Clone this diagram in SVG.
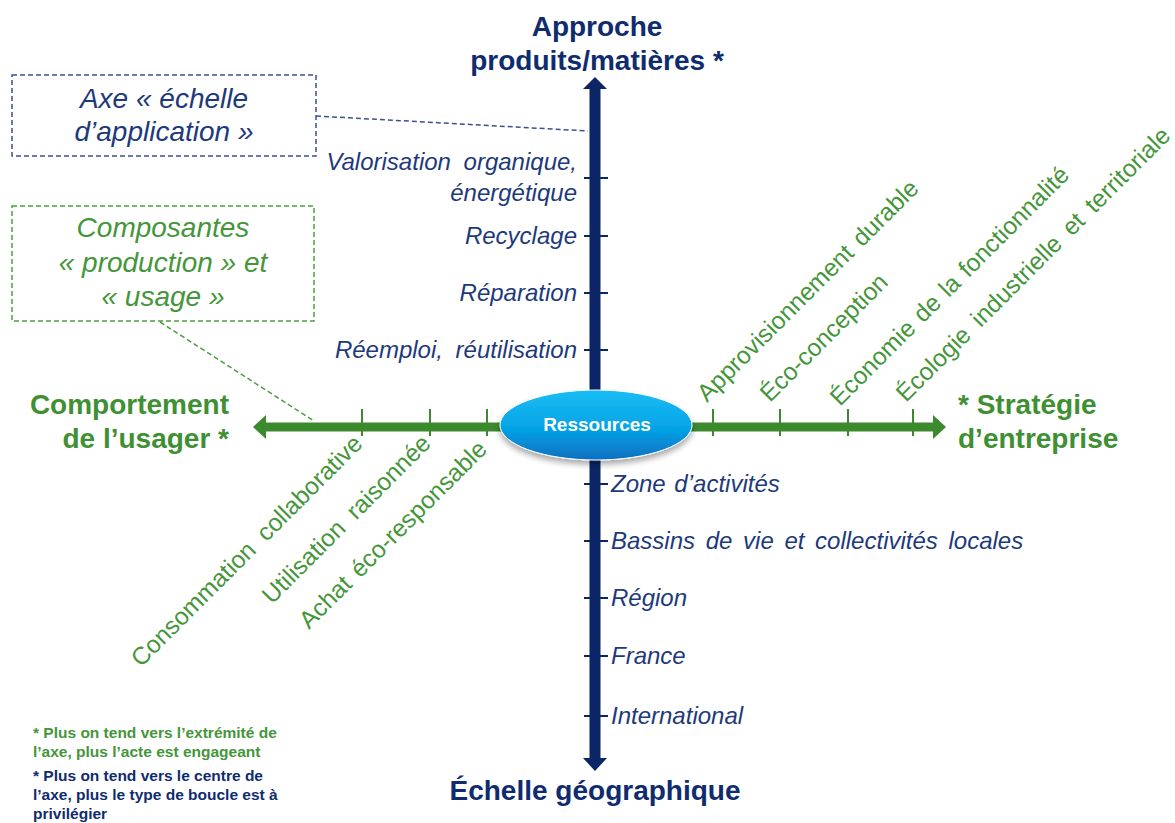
<svg xmlns="http://www.w3.org/2000/svg" width="1175" height="823" viewBox="0 0 1175 823">
  <style>
    .navy-t { fill: #1E3A7B; font-family: "Liberation Sans", Arial, sans-serif; font-style: italic; font-size: 24px; }
    .green-r { fill: #45963A; font-family: "Liberation Sans", Arial, sans-serif; font-size: 24.5px; }
    .title-b { fill: #0F2C6E; font-family: "Liberation Sans", Arial, sans-serif; font-weight: bold; font-size: 28px; }
    .title-g { fill: #3F8F33; font-family: "Liberation Sans", Arial, sans-serif; font-weight: bold; font-size: 28px; }
    .box-t { font-family: "Liberation Sans", Arial, sans-serif; font-style: italic; font-size: 28px; text-anchor: middle; }
    .note { font-family: "Liberation Sans", Arial, sans-serif; font-weight: bold; font-size: 15.5px; }
    .tick-v { stroke: #0B2567; stroke-width: 2; }
    .tick-h { stroke: #3C8A2E; stroke-width: 2; }
  </style>
  <defs>
    <linearGradient id="ressGrad" x1="0" y1="0" x2="0" y2="1">
      <stop offset="0" stop-color="#1ABDF4"/>
      <stop offset="0.55" stop-color="#05A3E6"/>
      <stop offset="1" stop-color="#0A6FC0"/>
    </linearGradient>
    <filter id="soft" x="-20%" y="-30%" width="140%" height="170%">
      <feGaussianBlur in="SourceAlpha" stdDeviation="3"/>
      <feOffset dy="4"/>
      <feComponentTransfer><feFuncA type="linear" slope="0.35"/></feComponentTransfer>
      <feMerge><feMergeNode/><feMergeNode in="SourceGraphic"/></feMerge>
    </filter>
  </defs>

  <rect width="1175" height="823" fill="#FFFFFF"/>

  <!-- connectors: axes, ticks and callout leaders -->
  <g id="connectors">
    <!-- vertical axis -->
    <line x1="595" y1="87" x2="595" y2="760" stroke="#0B2567" stroke-width="11"/>
    <polygon points="583,89 595,77 607,89" fill="#0B2567"/>
    <polygon points="583,758 595,771 607,758" fill="#0B2567"/>
    <!-- horizontal axis -->
    <line x1="264" y1="427" x2="935" y2="427" stroke="#3C8A2E" stroke-width="9"/>
    <polygon points="266,415 253,427 266,439" fill="#3C8A2E"/>
    <polygon points="933,415 946,427 933,439" fill="#3C8A2E"/>
    <!-- ticks on the vertical axis -->
    <line class="tick-v" x1="584" y1="178" x2="608" y2="178"/>
    <line class="tick-v" x1="584" y1="236" x2="608" y2="236"/>
    <line class="tick-v" x1="584" y1="293" x2="608" y2="293"/>
    <line class="tick-v" x1="584" y1="350" x2="608" y2="350"/>
    <line class="tick-v" x1="584" y1="484" x2="608" y2="484"/>
    <line class="tick-v" x1="584" y1="541" x2="608" y2="541"/>
    <line class="tick-v" x1="584" y1="598" x2="608" y2="598"/>
    <line class="tick-v" x1="584" y1="656" x2="608" y2="656"/>
    <line class="tick-v" x1="584" y1="716" x2="608" y2="716"/>
    <!-- ticks on the horizontal axis -->
    <line class="tick-h" x1="362" y1="409" x2="362" y2="436"/>
    <line class="tick-h" x1="430" y1="409" x2="430" y2="436"/>
    <line class="tick-h" x1="487" y1="409" x2="487" y2="436"/>
    <line class="tick-h" x1="713" y1="409" x2="713" y2="436"/>
    <line class="tick-h" x1="780" y1="409" x2="780" y2="436"/>
    <line class="tick-h" x1="848" y1="409" x2="848" y2="436"/>
    <line class="tick-h" x1="913" y1="409" x2="913" y2="436"/>
    <!-- callout leaders -->
    <line x1="316" y1="116" x2="588" y2="131" stroke="#3B5190" stroke-width="1.5" stroke-dasharray="5,3"/>
    <line x1="160" y1="322" x2="314" y2="421" stroke="#4E9C42" stroke-width="1.5" stroke-dasharray="5,3"/>
  </g>

  <!-- centre node -->
  <g id="node-ressources">
    <ellipse cx="596" cy="425" rx="96" ry="35" fill="url(#ressGrad)" stroke="#FFFFFF" stroke-width="1" filter="url(#soft)"/>
    <text x="597" y="431" text-anchor="middle" fill="#FFFFFF" font-family="'Liberation Sans', Arial, sans-serif" font-weight="bold" font-size="19">Ressources</text>
  </g>

  <!-- axis titles -->
  <g id="node-approche">
    <text class="title-b" x="597" y="36" text-anchor="middle">Approche</text>
    <text class="title-b" x="597" y="70" text-anchor="middle">produits/matières *</text>
  </g>
  <g id="node-echelle">
    <text class="title-b" x="595" y="800" text-anchor="middle">Échelle géographique</text>
  </g>
  <g id="node-comportement">
    <text class="title-g" x="229" y="414" text-anchor="end">Comportement</text>
    <text class="title-g" x="229" y="448" text-anchor="end">de l’usager *</text>
  </g>
  <g id="node-strategie">
    <text class="title-g" x="958" y="414">* Stratégie</text>
    <text class="title-g" x="958" y="448">d’entreprise</text>
  </g>

  <!-- callout boxes -->
  <g id="node-axe-echelle">
    <rect x="12" y="75" width="304" height="81" fill="none" stroke="#3B5190" stroke-width="1.5" stroke-dasharray="5,3"/>
    <text class="box-t" x="164" y="108" fill="#1E3A7B">Axe « échelle</text>
    <text class="box-t" x="164" y="141" fill="#1E3A7B">d’application »</text>
  </g>
  <g id="node-composantes">
    <rect x="12" y="206" width="302" height="115" fill="none" stroke="#4E9C42" stroke-width="1.5" stroke-dasharray="5,3"/>
    <text class="box-t" x="163" y="237" fill="#45963A">Composantes</text>
    <text class="box-t" x="163" y="272" fill="#45963A">« production » et</text>
    <text class="box-t" x="163" y="306" fill="#45963A">« usage »</text>
  </g>

  <!-- loop types (upper half of the vertical axis) -->
  <g id="node-valorisation">
    <text class="navy-t" x="577" y="170" text-anchor="end" word-spacing="6">Valorisation organique,</text>
    <text class="navy-t" x="577" y="201" text-anchor="end">énergétique</text>
  </g>
  <g id="node-recyclage"><text class="navy-t" x="577" y="244" text-anchor="end">Recyclage</text></g>
  <g id="node-reparation"><text class="navy-t" x="577" y="301" text-anchor="end">Réparation</text></g>
  <g id="node-reemploi"><text class="navy-t" x="577" y="358" text-anchor="end" word-spacing="6">Réemploi, réutilisation</text></g>

  <!-- geographic scales (lower half of the vertical axis) -->
  <g id="node-zone"><text class="navy-t" x="611" y="492" word-spacing="2">Zone d’activités</text></g>
  <g id="node-bassins"><text class="navy-t" x="611" y="549" word-spacing="4">Bassins de vie et collectivités locales</text></g>
  <g id="node-region"><text class="navy-t" x="611" y="606">Région</text></g>
  <g id="node-france"><text class="navy-t" x="611" y="664">France</text></g>
  <g id="node-international"><text class="navy-t" x="611" y="724">International</text></g>

  <!-- business strategy components (right) -->
  <g id="node-approvisionnement"><text class="green-r" transform="translate(707,403) rotate(-45)" word-spacing="3">Approvisionnement durable</text></g>
  <g id="node-ecoconception"><text class="green-r" transform="translate(770,403) rotate(-45)">Éco-conception</text></g>
  <g id="node-economie"><text class="green-r" transform="translate(840,407) rotate(-45)" word-spacing="2">Économie de la fonctionnalité</text></g>
  <g id="node-ecologie"><text class="green-r" transform="translate(906,403) rotate(-45)" word-spacing="5">Écologie industrielle et territoriale</text></g>

  <!-- consumer behaviour components (left) -->
  <g id="node-consommation"><text class="green-r" transform="translate(141,668) rotate(-45)" word-spacing="6">Consommation collaborative</text></g>
  <g id="node-utilisation"><text class="green-r" transform="translate(272,605) rotate(-45)" word-spacing="6">Utilisation raisonnée</text></g>
  <g id="node-achat"><text class="green-r" transform="translate(309,630) rotate(-45)" word-spacing="3">Achat éco-responsable</text></g>

  <!-- footnotes -->
  <g id="node-notes">
    <text class="note" x="33" y="738" fill="#45963A">* Plus on tend vers l’extrémité de</text>
    <text class="note" x="33" y="757" fill="#45963A">l’axe, plus l’acte est engageant</text>
    <text class="note" x="33" y="781" fill="#0F2C6E">* Plus on tend vers le centre de</text>
    <text class="note" x="33" y="800" fill="#0F2C6E">l’axe, plus le type de boucle est à</text>
    <text class="note" x="33" y="819" fill="#0F2C6E">privilégier</text>
  </g>
</svg>
